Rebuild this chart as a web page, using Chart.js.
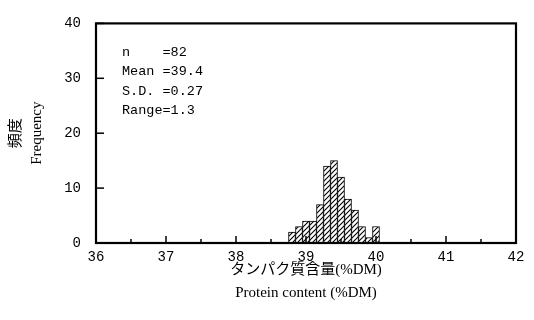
<!DOCTYPE html>
<html>
<head>
<meta charset="utf-8">
<script src="https://cdn.jsdelivr.net/npm/chart.js@4/dist/chart.umd.min.js"></script>
<style>
  html, body { margin: 0; padding: 0; background: #fff; }
</style>
</head>
<body>
<canvas id="chart" width="534" height="320"></canvas>
<script>
// histogram bins (centre of each 0.1 %DM class) and counts
const binCenters = [38.8, 38.9, 39.0, 39.1, 39.2, 39.3, 39.4, 39.5, 39.6, 39.7, 39.8, 39.9, 40.0];
const counts = [2, 3, 4, 4, 7, 14, 15, 12, 8, 6, 3, 1, 3];

const xTickValues = [36, 37, 38, 39, 40, 41, 42];
const xMinorStep = 0.5;
const yTickValues = [0, 10, 20, 30, 40];

const statsLines = ['n    =82', 'Mean =39.4', 'S.D. =0.27', 'Range=1.3'];
const xTitle = ['タンパク質含量(%DM)', 'Protein content (%DM)'];
const yTitle = ['頻度', 'Frequency'];

const monoFont = '"Liberation Mono", "DejaVu Sans Mono", monospace';
const serifFont = '"Liberation Serif", "Noto Sans CJK JP", serif';

function hatchPattern() {
  const c = document.createElement('canvas');
  c.width = 5;
  c.height = 5;
  const g = c.getContext('2d');
  g.fillStyle = '#fff';
  g.fillRect(0, 0, 5, 5);
  g.strokeStyle = '#000';
  g.lineWidth = 1.1;
  g.beginPath();
  g.moveTo(0, 5); g.lineTo(5, 0);
  g.moveTo(-1, 1); g.lineTo(1, -1);
  g.moveTo(4, 6); g.lineTo(6, 4);
  g.stroke();
  return g.createPattern(c, 'repeat');
}

// box frame, inward tick marks and the summary text block
const framePlugin = {
  id: 'frame',
  afterDraw(chart) {
    const { ctx, chartArea: a, scales } = chart;
    ctx.save();
    ctx.strokeStyle = '#000';

    ctx.lineWidth = 1.5;
    yTickValues.forEach((v) => {
      const y = scales.y.getPixelForValue(v);
      ctx.beginPath();
      ctx.moveTo(a.left, y);
      ctx.lineTo(a.left + 8, y);
      ctx.stroke();
    });
    const first = xTickValues[0];
    const last = xTickValues[xTickValues.length - 1];
    for (let v = first; v <= last + 1e-9; v += xMinorStep) {
      const x = scales.x.getPixelForValue(v);
      const major = Math.abs(v - Math.round(v)) < 1e-9;
      ctx.beginPath();
      ctx.moveTo(x, a.bottom);
      ctx.lineTo(x, a.bottom - (major ? 7 : 4));
      ctx.stroke();
    }

    ctx.lineWidth = 2.2;
    ctx.strokeRect(a.left, a.top, a.right - a.left, a.bottom - a.top);

    ctx.fillStyle = '#000';
    ctx.font = '13.5px ' + monoFont;
    ctx.textBaseline = 'middle';
    ctx.textAlign = 'left';
    statsLines.forEach((line, i) => {
      ctx.fillText(line, a.left + 26, a.top + 29 + i * 19.5);
    });
    ctx.restore();
  },
};

new Chart(document.getElementById('chart'), {
  type: 'bar',
  data: {
    datasets: [{
      data: binCenters.map((x, i) => ({ x, y: counts[i] })),
      backgroundColor: hatchPattern(),
      borderColor: '#000',
      borderWidth: 1,
      barPercentage: 1,
      categoryPercentage: 1,
    }],
  },
  options: {
    responsive: false,
    animation: false,
    devicePixelRatio: 1,
    layout: { padding: { top: 14, right: 18, left: 0, bottom: 0 } },
    plugins: {
      legend: { display: false },
      tooltip: { enabled: false },
    },
    scales: {
      x: {
        type: 'linear',
        min: xTickValues[0],
        max: xTickValues[xTickValues.length - 1],
        offset: false,
        grid: { display: false, drawTicks: false },
        border: { display: false },
        afterBuildTicks: (scale) => {
          scale.ticks = xTickValues.map((v) => ({ value: v }));
        },
        afterFit: (scale) => { scale.height = 77; },
        ticks: {
          color: '#000',
          font: { family: monoFont, size: 14 },
          padding: 6,
          maxRotation: 0,
          autoSkip: false,
        },
        title: {
          display: true,
          text: xTitle,
          color: '#000',
          font: { family: serifFont, size: 15, lineHeight: '23px' },
          padding: { top: 0, bottom: 15 },
        },
      },
      y: {
        min: yTickValues[0],
        max: yTickValues[yTickValues.length - 1],
        grid: { display: false, drawTicks: false },
        border: { display: false },
        afterBuildTicks: (scale) => {
          scale.ticks = yTickValues.map((v) => ({ value: v }));
        },
        afterFit: (scale) => { scale.width = 96; },
        ticks: {
          color: '#000',
          font: { family: monoFont, size: 14 },
          padding: 15,
        },
        title: {
          display: true,
          text: yTitle,
          color: '#000',
          font: { family: serifFont, size: 15, lineHeight: '21px' },
          padding: { top: 6, bottom: 0 },
        },
      },
    },
  },
  plugins: [framePlugin],
});
</script>
</body>
</html>
